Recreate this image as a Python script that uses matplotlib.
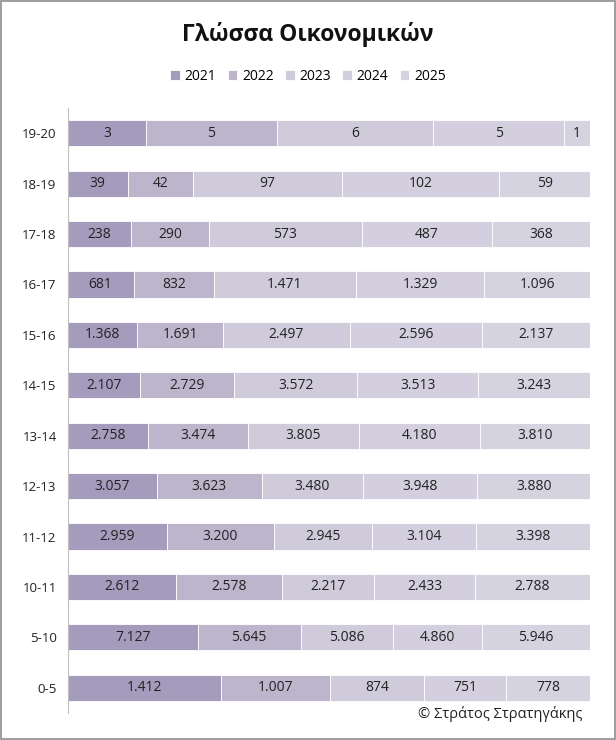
import matplotlib.pyplot as plt
import numpy as np
from matplotlib.patches import Rectangle

plt.rcParams['font.family'] = ['Open Sans', 'DejaVu Sans']

# Data
categories = ['0-5', '5-10', '10-11', '11-12', '12-13', '13-14', '14-15',
              '15-16', '16-17', '17-18', '18-19', '19-20']
years = ['2021', '2022', '2023', '2024', '2025']
v2021 = [1412, 7127, 2612, 2959, 3057, 2758, 2107, 1368, 681, 238, 39, 3]
v2022 = [1007, 5645, 2578, 3200, 3623, 3474, 2729, 1691, 832, 290, 42, 5]
v2023 = [874, 5086, 2217, 2945, 3480, 3805, 3572, 2497, 1471, 573, 97, 6]
v2024 = [751, 4860, 2433, 3104, 3948, 4180, 3513, 2596, 1329, 487, 102, 5]
v2025 = [778, 5946, 2788, 3398, 3880, 3810, 3243, 2137, 1096, 368, 59, 1]

colors = ['#a59cbd', '#bcb5cc', '#cfcbdb', '#d3cfde', '#d6d3e1']

series = np.array([v2021, v2022, v2023, v2024, v2025], dtype=float)
totals = series.sum(axis=0)
shares = series / totals

fig = plt.figure(figsize=(6.16, 7.4), dpi=100)
ax = fig.add_axes([0.110, 0.0365, 0.848, 0.8175])

y = np.arange(len(categories))
left = np.zeros(len(categories))
for i, yr in enumerate(years):
    bars = ax.barh(y, shares[i], left=left, height=0.52, color=colors[i],
                   edgecolor='white', linewidth=0.6, label=yr)
    for j, b in enumerate(bars):
        txt = f"{int(series[i][j]):,}".replace(',', '.')
        ax.text(left[j] + shares[i][j] / 2, y[j], txt, ha='center', va='center',
                fontsize=10, color='#222222')
    left += shares[i]

ax.set_xlim(0, 1)
ax.set_ylim(-0.5, len(categories) - 0.5)
ax.set_yticks(y)
ax.set_yticklabels(categories, fontsize=9.5, color='#222222')
ax.tick_params(axis='y', length=0, pad=8)
ax.set_xticks([])
for s in ['top', 'right', 'bottom']:
    ax.spines[s].set_visible(False)
ax.spines['left'].set_color('#bfbfbf')

fig.text(0.5, 0.953, 'Γλώσσα Οικονομικών', ha='center', va='center',
         fontsize=16.5, fontweight='bold', color='#111111')
fig.legend(loc='center', bbox_to_anchor=(0.5, 0.897), ncol=5, frameon=False,
           fontsize=10, handlelength=0.7, handleheight=0.7, handletextpad=0.35,
           columnspacing=0.8)
fig.text(0.945, 0.035, '© Στράτος Στρατηγάκης', ha='right', va='center',
         fontsize=10.5, color='#222222')

fig.patches.append(Rectangle((0.002, 0.002), 0.996, 0.996, transform=fig.transFigure,
                             fill=False, edgecolor='#8c8c8c', linewidth=1.2))

plt.savefig('out.png', dpi=100)
plt.close()
